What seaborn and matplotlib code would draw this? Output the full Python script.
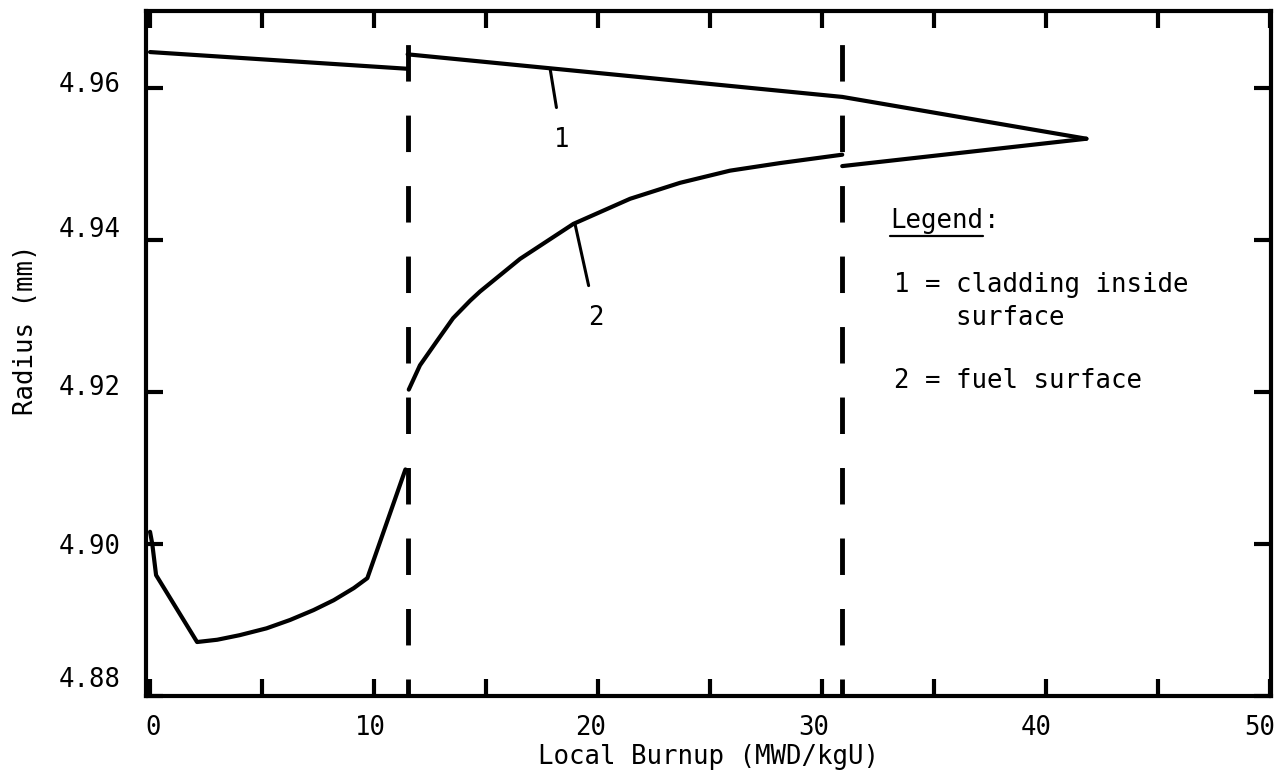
import matplotlib
matplotlib.use("Agg")
import matplotlib.pyplot as plt
from matplotlib.lines import Line2D
from matplotlib.ticker import FormatStrFormatter, FixedLocator
from matplotlib.transforms import ScaledTranslation
import seaborn as sns
import pandas as pd

# ---- data ----
clad_x_a = [0.0, 11.5]
clad_y_a = [4.9647, 4.9625]
clad_x_b = [11.5, 30.9, 41.8]
clad_y_b = [4.9644, 4.9588, 4.9533]

fuel_x_a = [0.0, 0.1, 0.27, 2.1, 3.0, 4.0, 5.2, 6.25, 7.3, 8.2, 9.1, 9.7, 11.4]
fuel_y_a = [4.9016, 4.9000, 4.8959, 4.8871, 4.8874, 4.8880, 4.8889, 4.8900,
            4.8913, 4.8926, 4.8942, 4.8955, 4.9098]
fuel_x_b = [11.55, 12.05, 12.81, 13.53, 14.29, 14.73, 16.52, 18.90, 21.43,
            23.66, 25.89, 28.13, 30.9]
fuel_y_b = [4.9203, 4.9235, 4.9267, 4.9297, 4.9320, 4.9332, 4.9375, 4.9421,
            4.9454, 4.9475, 4.9491, 4.9501, 4.9512]
fuel_x_c = [30.9, 41.8]
fuel_y_c = [4.9497, 4.9533]

dash_x = [11.5, 30.9]

x_ticks = [0, 10, 20, 30, 40, 50]
x_minor_ticks = [5, 15, 25, 35, 45]
y_ticks = [4.88, 4.90, 4.92, 4.94, 4.96]

x_label = "Local Burnup (MWD/kgU)"
y_label = "Radius (mm)"
legend_title = "Legend"
legend_lines = ["1 = cladding inside", "    surface", "2 = fuel surface"]
curve_labels = ["1", "2"]

# ---- build long table ----
segments = [
    ("c1a", clad_x_a, clad_y_a),
    ("c1b", clad_x_b, clad_y_b),
    ("f2a", fuel_x_a, fuel_y_a),
    ("f2b", fuel_x_b, fuel_y_b),
    ("f2c", fuel_x_c, fuel_y_c),
]
rows = []
for name, xs, ys in segments:
    for i, (xv, yv) in enumerate(zip(xs, ys)):
        rows.append({"segment": name, "order": i, "burnup": xv, "radius": yv})
df = pd.DataFrame(rows)

sns.set_theme(style="ticks")
plt.rcParams["font.family"] = ["DejaVu Sans Mono", "DejaVu Sans"]
for k in ["text.color", "axes.labelcolor", "xtick.color", "ytick.color",
          "xtick.labelcolor", "ytick.labelcolor"]:
    plt.rcParams[k] = "black"
FS = 18.5

fig = plt.figure(figsize=(12.79, 7.72), dpi=100)
ax = fig.add_axes([146 / 1279, 1 - 696 / 772, 1125 / 1279, 685 / 772])

sns.lineplot(data=df, x="burnup", y="radius", units="segment", estimator=None,
             sort=False, color="black", lw=3.0, ax=ax, legend=False)

for xv in dash_x:
    ax.axvline(xv, color="black", lw=3.5, linestyle=(4, (7.5, 7.0)))

ax.set_xlim(-0.18, 50.04)
ax.set_ylim(4.88, 4.9701)

ax.xaxis.set_major_locator(FixedLocator(x_ticks))
ax.xaxis.set_minor_locator(FixedLocator(x_minor_ticks))
ax.yaxis.set_major_locator(FixedLocator(y_ticks))
ax.yaxis.set_major_formatter(FormatStrFormatter("%.2f"))

ax.tick_params(axis="both", which="both", direction="in", length=12, width=3,
               color="black", top=True, right=True, labelsize=FS,
               labelcolor="black")
ax.tick_params(axis="x", which="major", pad=14)
ax.tick_params(axis="y", which="major", pad=18)
for s in ax.spines.values():
    s.set_linewidth(3)
    s.set_color("black")

ax.set_xlabel(x_label, fontsize=FS, labelpad=2)
ax.set_ylabel(y_label, fontsize=FS)
ax.yaxis.set_label_coords(-0.095, 0.535)

# small offsets of tick labels as printed in the reference (pixels)
x_label_shift_px = {"0": 3, "10": -4, "20": -7, "30": -8, "40": -10, "50": -10}
y_label_shift_px = {"4.88": 19, "4.90": 0, "4.92": 7, "4.94": 13, "4.96": 6}
fig.canvas.draw()
for lab in ax.get_xticklabels():
    dx = x_label_shift_px.get(lab.get_text(), 0) / fig.dpi
    lab.set_transform(lab.get_transform() + ScaledTranslation(dx, 0, fig.dpi_scale_trans))
for lab in ax.get_yticklabels():
    dy = y_label_shift_px.get(lab.get_text(), 0) / fig.dpi
    lab.set_transform(lab.get_transform() + ScaledTranslation(0, dy, fig.dpi_scale_trans))

# curve labels with leader lines
ax.annotate(curve_labels[0], xy=(17.86, 4.9625), xytext=(18.38, 4.9531),
            fontsize=FS, ha="center", va="center",
            arrowprops=dict(arrowstyle="-", lw=2.2, color="black", shrinkA=12, shrinkB=0))
ax.annotate(curve_labels[1], xy=(18.97, 4.9421), xytext=(19.9, 4.9297),
            fontsize=FS, ha="center", va="center",
            arrowprops=dict(arrowstyle="-", lw=2.2, color="black", shrinkA=12, shrinkB=0))

# legend text block
t_leg = ax.text(33.05, 4.9425, legend_title, fontsize=FS, ha="left", va="center")
fig.canvas.draw()
bb = t_leg.get_window_extent()
inv = ax.transData.inverted()
x1_data, _ = inv.transform((bb.x1, bb.y0))
ax.text(x1_data, 4.9425, ":", fontsize=FS, ha="left", va="center")
x0_fig, y0_fig = fig.transFigure.inverted().transform((bb.x0, bb.y0 - 2))
x1_fig, _ = fig.transFigure.inverted().transform((bb.x1, bb.y0 - 2))
fig.add_artist(Line2D([x0_fig, x1_fig], [y0_fig, y0_fig], color="black", lw=1.6,
                      transform=fig.transFigure))

ax.text(33.2, 4.9340, legend_lines[0], fontsize=FS, ha="left", va="center")
ax.text(33.2, 4.9297, legend_lines[1], fontsize=FS, ha="left", va="center")
ax.text(33.2, 4.9214, legend_lines[2], fontsize=FS, ha="left", va="center")

fig.savefig("out.png", dpi=100)
